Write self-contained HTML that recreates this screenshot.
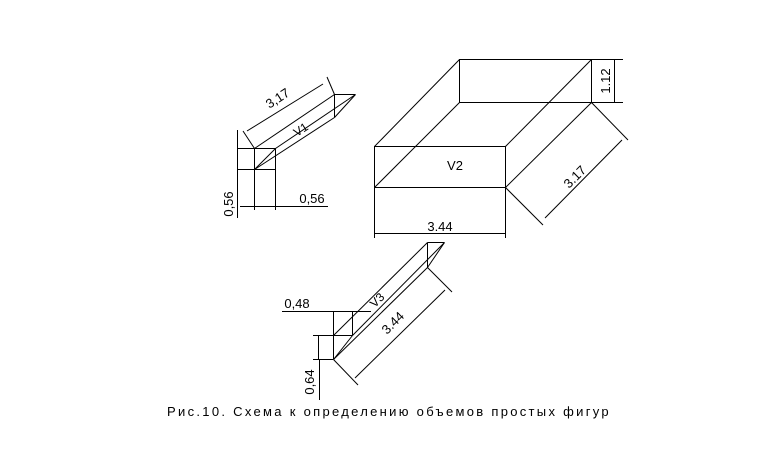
<!DOCTYPE html>
<html><head><meta charset="utf-8"><style>
body{margin:0;background:#fff;width:783px;height:446px;overflow:hidden}
svg text{font-family:"Liberation Sans",sans-serif;fill:#000}
</style></head><body>
<svg width="783" height="446" viewBox="0 0 783 446" stroke="#000" stroke-width="1" fill="none">
<!-- V2 box -->
<rect x="374.5" y="146.5" width="131" height="41"/>
<rect x="459.5" y="59.5" width="132" height="43"/>
<line x1="374.5" y1="146.5" x2="459.5" y2="59.5"/>
<line x1="505.5" y1="146.5" x2="591.5" y2="59.5"/>
<line x1="374.5" y1="187.5" x2="459.5" y2="102.5"/>
<line x1="505.5" y1="187.5" x2="591.5" y2="102.5"/>
<line x1="374.5" y1="188" x2="374.5" y2="238"/>
<line x1="505.5" y1="188" x2="505.5" y2="238"/>
<line x1="374" y1="233.5" x2="506" y2="233.5"/>
<line x1="592" y1="59.5" x2="623" y2="59.5"/>
<line x1="592" y1="102.5" x2="623" y2="102.5"/>
<line x1="614.5" y1="59" x2="614.5" y2="103"/>
<line x1="591.5" y1="102.5" x2="628" y2="140"/>
<line x1="505.5" y1="187.5" x2="543" y2="225"/>
<line x1="622" y1="140" x2="545" y2="218"/>
<text x="440" y="231" font-size="13" text-anchor="middle" stroke="none">3.44</text>
<text x="455" y="170" font-size="13" text-anchor="middle" stroke="none">V2</text>
<text transform="translate(610,81) rotate(-90)" font-size="13" text-anchor="middle" stroke="none">1.12</text>
<text transform="translate(578,180) rotate(-45)" font-size="13" text-anchor="middle" stroke="none">3.17</text>
<!-- V1 -->
<rect x="254.5" y="148.5" width="21" height="21"/>
<line x1="275.5" y1="148.5" x2="254.5" y2="169.5"/>
<line x1="334.5" y1="94.5" x2="355.5" y2="94.5"/>
<line x1="334.5" y1="94.5" x2="334.5" y2="117.5"/>
<line x1="355.5" y1="94.5" x2="334.5" y2="117.5"/>
<line x1="254.5" y1="148.5" x2="334.5" y2="94.5"/>
<line x1="275.5" y1="148.5" x2="355.5" y2="94.5"/>
<line x1="254.5" y1="169.5" x2="334.5" y2="117.5"/>
<line x1="254.5" y1="170" x2="254.5" y2="210"/>
<line x1="275.5" y1="170" x2="275.5" y2="210"/>
<line x1="240" y1="206.5" x2="328" y2="206.5"/>
<line x1="237" y1="148.5" x2="254" y2="148.5"/>
<line x1="237" y1="169.5" x2="254" y2="169.5"/>
<line x1="237.5" y1="130" x2="237.5" y2="218"/>
<line x1="254.5" y1="148.5" x2="243" y2="131"/>
<line x1="334.5" y1="94.5" x2="327" y2="77"/>
<line x1="247" y1="131" x2="323" y2="84"/>
<text x="312" y="203" font-size="13" text-anchor="middle" stroke="none">0,56</text>
<text transform="translate(233,204) rotate(-90)" font-size="13" text-anchor="middle" stroke="none">0,56</text>
<text transform="translate(280,102) rotate(-33)" font-size="13" text-anchor="middle" stroke="none">3,17</text>
<text transform="translate(303,133) rotate(-33)" font-size="12" text-anchor="middle" stroke="none">V1</text>
<!-- V3 -->
<line x1="333.5" y1="311" x2="333.5" y2="359.5"/>
<line x1="352.5" y1="311" x2="352.5" y2="335.5"/>
<line x1="333.5" y1="335.5" x2="352.5" y2="335.5"/>
<line x1="352.5" y1="335.5" x2="333.5" y2="359.5"/>
<line x1="427.5" y1="242.5" x2="444.5" y2="242.5"/>
<line x1="427.5" y1="242.5" x2="427.5" y2="267.5"/>
<line x1="444.5" y1="242.5" x2="427.5" y2="267.5"/>
<line x1="333.5" y1="335.5" x2="427.5" y2="242.5"/>
<line x1="352.5" y1="335.5" x2="444.5" y2="242.5"/>
<line x1="333.5" y1="359.5" x2="427.5" y2="267.5"/>
<line x1="282" y1="311.5" x2="371" y2="311.5"/>
<line x1="313" y1="335.5" x2="333" y2="335.5"/>
<line x1="313" y1="359.5" x2="333" y2="359.5"/>
<line x1="318.5" y1="335" x2="318.5" y2="359"/>
<line x1="319.5" y1="360" x2="319.5" y2="400"/>
<line x1="427.5" y1="267.5" x2="452" y2="292"/>
<line x1="333.5" y1="359.5" x2="358" y2="385"/>
<line x1="445" y1="290" x2="355" y2="378"/>
<text x="297" y="308" font-size="13" text-anchor="middle" stroke="none">0,48</text>
<text transform="translate(314,382) rotate(-90)" font-size="13" text-anchor="middle" stroke="none">0,64</text>
<text transform="translate(396,326) rotate(-45)" font-size="13" text-anchor="middle" stroke="none">3.44</text>
<text transform="translate(380,303) rotate(-45)" font-size="12" text-anchor="middle" stroke="none">V3</text>
<text x="389" y="416" font-size="13" text-anchor="middle" stroke="none" letter-spacing="2.3">Рис.10. Схема к определению объемов простых фигур</text>
</svg>
</body></html>
